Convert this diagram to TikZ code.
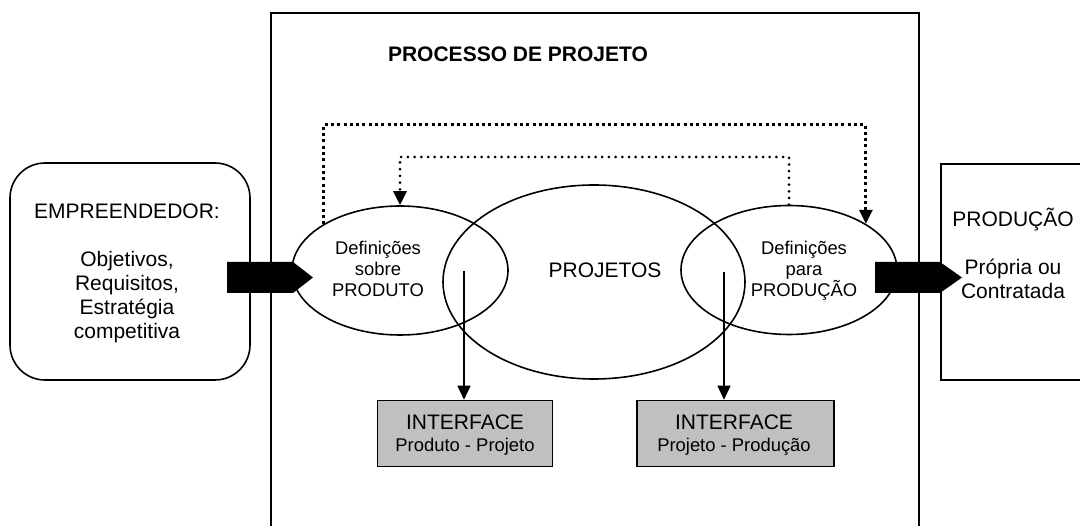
\documentclass[tikz,border=0pt]{standalone}
\usepackage{fontspec}
\setmainfont{Liberation Sans}
\usetikzlibrary{arrows.meta,shapes.geometric}
\definecolor{ifgray}{RGB}{192,192,192}
\tikzset{
	big/.style={font=\fontsize{21}{24}\selectfont},
	small/.style={font=\fontsize{18.4}{21}\selectfont},
	oval/.style={draw, ellipse, line width=1.6pt, inner sep=0pt, minimum width=216pt, minimum height=129pt},
	ifbox/.style={draw, line width=1.6pt, fill=ifgray, minimum height=66pt, inner sep=0pt},
	flow/.style={-{Triangle[width=13pt,length=14pt]}, line width=1.6pt},
	fbsquare/.style={flow, line width=3pt, dash pattern=on 3pt off 3.3pt},
	fbround/.style={flow, line width=3pt, line cap=round, dash pattern=on 0pt off 6.7pt},
}
\begin{document}
\begin{tikzpicture}[x=1pt,y=-1pt]
		\useasboundingbox (0,0) rectangle (1080,526);
		\clip (0,0) rectangle (1080,526);
		\node (proc) [draw, line width=1.6pt, anchor=north west, minimum width=648pt, minimum height=560pt] at (270,12) {};
		\node (title) [font=\fontsize{21}{24}\selectfont\bfseries, anchor=base] at (518,62) {PROCESSO DE PROJETO};

		\node (empr) [draw, line width=1.6pt, rounded corners=35pt, minimum width=240pt, minimum height=217pt] at (130,271.5) {};
		\node (emprtxt) [big, align=center] at (127,273.7) {EMPREENDEDOR:\\[24pt]Objetivos,\\Requisitos,\\Estratégia\\competitiva};

		\node (prodbox) [draw, line width=1.6pt, anchor=north west, minimum width=200pt, minimum height=216pt] at (940,163) {};
		\node (prodtxt) [big, align=center] at (1013,253.3) {PRODUÇÃO\\[24pt]Própria ou\\Contratada};

		\node (projetos) [oval, minimum width=302pt, minimum height=194pt] at (594,282) {};
		\node (projtxt) [big, anchor=base] at (605,278) {PROJETOS};
		\node (dprod) [oval] at (400,270.5) {};
		\node (dprodtxt) [small, align=center] at (378,269.3) {Definições\\sobre\\PRODUTO};
		\node (dprodc) [oval] at (789,270) {};
		\node (dprodctxt) [small, align=center] at (804,271) {Definições\\para\\PRODUÇÃO};

		\node (ifprod) [ifbox, minimum width=175pt] at (465,433.5) {};
		\node (ifprodA) [big, anchor=base] at (465,430) {INTERFACE};
		\node (ifprodB) [small, anchor=base] at (465,452) {Produto - Projeto};
		\node (ifproj) [ifbox, minimum width=197pt] at (735.5,433.5) {};
		\node (ifprojA) [big, anchor=base] at (734,430) {INTERFACE};
		\node (ifprojB) [small, anchor=base] at (734,452) {Projeto - Produção};

		\fill (227,262) -- (293,262) -- (313,277.5) -- (293,293) -- (227,293) -- cycle;
		\fill (875,262) -- (940,262) -- (962,277.5) -- (940,293) -- (875,293) -- cycle;

		\coordinate (a1) at (464,271);
		\coordinate (a2) at (724,272);
		\draw[flow] (a1) -- (a1 |- ifprod.north);
		\draw[flow] (a2) -- (a2 |- ifproj.north);

		\coordinate (fbout) at (600,125);
		\coordinate (fbin) at (600,157);
		\draw[fbsquare] (dprod.149) |- (fbout) -| (dprodc.31);
		\draw[fbround] (dprodc.north) |- (fbin) -| (dprod.north);
	\end{tikzpicture}
\end{document}
